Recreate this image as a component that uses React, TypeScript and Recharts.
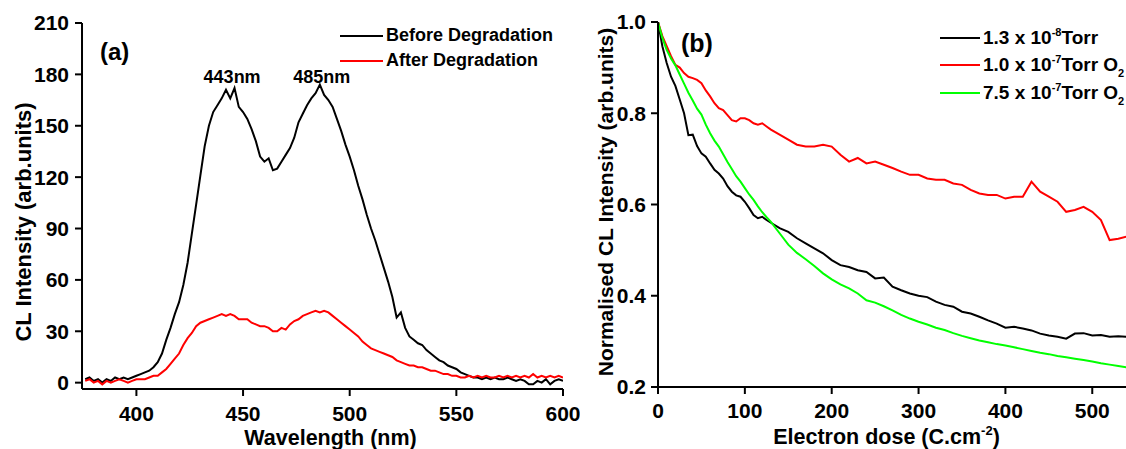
import { LineChart, Line, XAxis, YAxis, Legend, ReferenceDot } from 'recharts';

const FONT = '"Liberation Sans", Arial, sans-serif';

// ---- panel (a): CL spectra ----
const wavelengths = [
  376, 378, 380, 382, 384, 386, 388, 390, 392, 394,
  396, 398, 400, 402, 404, 406, 408, 410, 412, 414,
  416, 418, 420, 422, 424, 426, 428, 430, 432, 434,
  436, 438, 440, 442, 444, 446, 448, 450, 452, 454,
  456, 458, 460, 462, 464, 466, 468, 470, 472, 474,
  476, 478, 480, 482, 484, 486, 488, 490, 492, 494,
  496, 498, 500, 502, 504, 506, 508, 510, 512, 514,
  516, 518, 520, 522, 524, 526, 528, 530, 532, 534,
  536, 538, 540, 542, 544, 546, 548, 550, 552, 554,
  556, 558, 560, 562, 564, 566, 568, 570, 572, 574,
  576, 578, 580, 582, 584, 586, 588, 590, 592, 594,
  596, 598, 600,
];
const beforeDeg = [
  2, 3, 1, 2, 0, 2, 1, 3, 2, 3,
  2, 3, 4, 5, 6, 7, 9, 12, 17, 25,
  32, 40, 47, 57, 70, 87, 104, 121, 138, 150,
  158, 162, 166, 171, 166, 172, 161, 158, 154, 148,
  141, 132, 129, 131, 124, 125, 129, 133, 137, 143,
  152, 157, 162, 166, 169, 174, 168, 165, 161, 154,
  147, 139, 132, 124, 115, 107, 98, 90, 83, 75,
  67, 59, 50, 38, 41, 32, 27, 25, 23, 22,
  19, 17, 15, 13, 12, 10, 9, 8, 6, 5,
  4, 3, 3, 2, 3, 2, 3, 2, 2, 3,
  2, 1, 2, 1, -1, -1, 1, 0, 2, -1,
  1, 2, 1,
];
const afterDeg = [
  1, 2, 0, 1, -1, 1, 0, 1, 2, 1,
  0, 1, 2, 2, 2, 3, 4, 4, 6, 8,
  11, 14, 17, 22, 26, 29, 33, 35, 36, 37,
  38, 39, 40, 39, 40, 39, 37, 37, 37, 35,
  34, 33, 33, 32, 30, 30, 32, 31, 34, 36,
  37, 39, 40, 41, 42, 41, 42, 41, 39, 37,
  35, 33, 31, 29, 27, 24, 22, 20, 19, 18,
  17, 16, 15, 13, 12, 11, 10, 10, 9, 9,
  8, 7, 7, 6, 5, 5, 4, 4, 3, 3,
  4, 3, 4, 3, 4, 3, 3, 4, 3, 4,
  3, 4, 3, 4, 3, 5, 3, 4, 3, 4,
  3, 4, 3,
];
const peakWavelengths = [443, 485];
const peakLabels = ['443nm', '485nm'];
const specXMajor = [400, 450, 500, 550, 600];
const specXMinor = [425, 475, 525, 575];
const specYMajor = [0, 30, 60, 90, 120, 150, 180, 210];
const specYMinor = [15, 45, 75, 105, 135, 165, 195];

// ---- panel (b): degradation vs dose ----
const doses = [
  0, 5, 10, 15, 20, 25, 30, 35, 40, 45,
  50, 55, 60, 65, 70, 75, 80, 85, 90, 95,
  100, 105, 110, 115, 120, 125, 130,
  140, 150, 160, 170, 180, 190, 200, 210, 220, 230,
  240, 250, 260, 270, 280, 290, 300, 310, 320, 330,
  340, 350, 360, 370, 380, 390, 400, 410, 420, 430,
  440, 450, 460, 470, 480, 490, 500, 510, 520, 530,
  540,
];
const vacuumBase = [
  1.0, 0.947, 0.91, 0.88, 0.86, 0.83, 0.8, 0.752, 0.753, 0.728,
  0.712, 0.705, 0.69, 0.676, 0.668, 0.657, 0.64, 0.628, 0.62, 0.617,
  0.606, 0.592, 0.577, 0.57, 0.573, 0.566, 0.56,
  0.548, 0.54, 0.526, 0.515, 0.504, 0.493, 0.478, 0.467, 0.463, 0.456,
  0.452, 0.438, 0.44, 0.42, 0.412, 0.405, 0.4, 0.397, 0.387, 0.38,
  0.376, 0.365, 0.361, 0.354, 0.346, 0.339, 0.33, 0.332, 0.328, 0.324,
  0.317, 0.313, 0.31, 0.306, 0.317, 0.318, 0.313, 0.314, 0.31, 0.311,
  0.31,
];
const oxygenLow = [
  1.0, 0.969, 0.947, 0.925, 0.906, 0.9, 0.888, 0.88, 0.877, 0.873,
  0.866, 0.85, 0.837, 0.822, 0.811, 0.807, 0.796, 0.785, 0.782, 0.789,
  0.789, 0.785, 0.778, 0.775, 0.778, 0.771, 0.764,
  0.753, 0.742, 0.731, 0.727, 0.727, 0.731, 0.727, 0.709, 0.694, 0.702,
  0.69, 0.694, 0.687, 0.68, 0.672, 0.665, 0.665, 0.657, 0.654, 0.654,
  0.646, 0.643, 0.632, 0.624, 0.621, 0.621, 0.613, 0.617, 0.617, 0.65,
  0.628, 0.617, 0.606, 0.584, 0.588, 0.595, 0.584, 0.566, 0.522, 0.525,
  0.53,
];
const oxygenHigh = [
  1.0, 0.965, 0.939, 0.92, 0.905, 0.885, 0.865, 0.845, 0.828, 0.81,
  0.797, 0.775, 0.756, 0.74, 0.727, 0.71, 0.693, 0.678, 0.662, 0.65,
  0.636, 0.622, 0.61, 0.596, 0.583, 0.572, 0.562,
  0.537, 0.512, 0.494, 0.48, 0.465, 0.449, 0.436, 0.425, 0.416, 0.405,
  0.39, 0.385, 0.377, 0.368, 0.358, 0.35, 0.343, 0.337, 0.33, 0.325,
  0.318, 0.312, 0.307, 0.302, 0.298, 0.294, 0.291, 0.287, 0.283, 0.279,
  0.275, 0.272, 0.268, 0.265, 0.262, 0.259, 0.256, 0.252, 0.249, 0.246,
  0.243,
];
const pressureKeys = ['vac', 'o2low', 'o2high'];
const pressureLabels = [
  { lead: '1.3 x 10', exp: '-8', tail: 'Torr', sub: '' },
  { lead: '1.0 x 10', exp: '-7', tail: 'Torr O', sub: '2' },
  { lead: '7.5 x 10', exp: '-7', tail: 'Torr O', sub: '2' },
];
const doseXMajor = [0, 100, 200, 300, 400, 500];
const doseXMinor = [50, 150, 250, 350, 450];
const normYMajor = [0.2, 0.4, 0.6, 0.8, 1.0];
const normYMinor = [0.3, 0.5, 0.7, 0.9];

const specData = wavelengths.map((wl, i) => ({ wl, before: beforeDeg[i], after: afterDeg[i] }));
const doseData = doses.map((d, i) => ({ d, vac: vacuumBase[i], o2low: oxygenLow[i], o2high: oxygenHigh[i] }));

const axisLine = { stroke: '#000', strokeWidth: 2 };
const tickLine = { stroke: '#000', strokeWidth: 2 };
const tickStyle = { fill: '#000', fontSize: 21, fontWeight: 'bold', fontFamily: FONT };
const txt = { fontFamily: FONT, fontWeight: 'bold' as const, fill: '#000' };

const byKeys = (payload: any[], keys: string[]) =>
  [...(payload || [])].sort((a, b) => keys.indexOf(a.dataKey) - keys.indexOf(b.dataKey));

const SpecLegend = (props: any) => (
  <div style={{ fontFamily: FONT, fontWeight: 'bold', fontSize: 18, whiteSpace: 'nowrap' }}>
    {byKeys(props.payload, ['before', 'after']).map((e: any, i: number) => (
      <div key={i} style={{ display: 'flex', alignItems: 'center', height: 25 }}>
        <span style={{ display: 'inline-block', width: 43, height: 2, background: e.color, marginRight: 3 }} />
        <span>{e.value}</span>
      </div>
    ))}
  </div>
);

const DoseLegend = (props: any) => (
  <div style={{ fontFamily: FONT, fontWeight: 'bold', fontSize: 19, whiteSpace: 'nowrap' }}>
    {byKeys(props.payload, pressureKeys).map((e: any) => {
      const l = pressureLabels[pressureKeys.indexOf(e.dataKey)];
      return (
        <div key={e.dataKey} style={{ display: 'flex', alignItems: 'center', height: 27.5 }}>
          <span style={{ display: 'inline-block', width: 40, height: 2, background: e.color, marginRight: 3 }} />
          <span>
            {l.lead}
            <span style={{ fontSize: 11, position: 'relative', top: -8 }}>{l.exp}</span>
            {l.tail}
            {l.sub && <span style={{ fontSize: 11, position: 'relative', top: 6 }}>{l.sub}</span>}
          </span>
        </div>
      );
    })}
  </div>
);

export default function App() {
  return (
    <div style={{ position: 'fixed', left: 0, top: 0, width: 1126, height: 449, overflow: 'hidden', background: '#fff' }}>
      <div style={{ position: 'absolute', left: 0, top: 0 }}>
        <LineChart width={580} height={449} data={specData} margin={{ top: 23, right: 17, bottom: 0, left: 0 }}>
          {/* minor ticks first so the labelled axes stack on the plot edge */}
          <XAxis
            xAxisId="xm" type="number" domain={[374.5, 600]} allowDataOverflow
            ticks={specXMinor} interval={0} height={0.01} axisLine={false}
            tick={false} tickSize={4} tickLine={tickLine}
          />
          <YAxis
            yAxisId="ym" type="number" domain={[-3.7, 210]} allowDataOverflow
            ticks={specYMinor} interval={0} width={0.01} axisLine={false}
            tick={false} tickSize={4} tickLine={tickLine}
          />
          <XAxis
            xAxisId="x" dataKey="wl" type="number" domain={[374.5, 600]} allowDataOverflow
            ticks={specXMajor} interval={0} height={60} axisLine={axisLine}
            tickSize={7} tickMargin={10} tickLine={tickLine} tick={tickStyle}
            label={{
              content: (p: any) => (
                <text x={p.viewBox.x + p.viewBox.width / 2 + 8} y={p.viewBox.y + 56} textAnchor="middle" fontSize={21.5} {...txt}>
                  Wavelength (nm)
                </text>
              ),
            }}
          />
          <YAxis
            yAxisId="y" type="number" domain={[-3.7, 210]} allowDataOverflow
            ticks={specYMajor} interval={0} width={82} axisLine={axisLine}
            tickSize={7} tickMargin={6} tickLine={tickLine} tick={tickStyle}
            label={{
              content: () => (
                <g>
                  <text x={31} y={222} transform="rotate(-90 31 222)" textAnchor="middle" fontSize={22} {...txt}>
                    CL Intensity (arb.units)
                  </text>
                  <text x={100} y={60} fontSize={24} {...txt}>(a)</text>
                </g>
              ),
            }}
          />
          <XAxis
            xAxisId="xt" orientation="top" type="number" domain={[374.5, 600]} allowDataOverflow height={0}
            tick={false} tickLine={false} axisLine={axisLine}
          />
          <YAxis
            yAxisId="yr" orientation="right" type="number" domain={[-3.7, 210]} width={0}
            tick={false} tickLine={false} axisLine={axisLine}
          />
          <Legend
            layout="horizontal" verticalAlign="middle" align="center"
            wrapperStyle={{ top: 23, left: 340, width: 'auto' }}
            content={SpecLegend}
          />
          <Line xAxisId="x" yAxisId="y" name="Before Degradation" dataKey="before" stroke="#000000" strokeWidth={2} dot={false} type="linear" isAnimationActive={false} />
          <Line xAxisId="x" yAxisId="y" name="After Degradation" dataKey="after" stroke="#ff0000" strokeWidth={2} dot={false} type="linear" isAnimationActive={false} />
          {peakWavelengths.map((wl, i) => (
            <ReferenceDot
              key={wl} xAxisId="x" yAxisId="y" x={wl} y={175} r={0} fill="none" stroke="none"
              label={{
                content: (p: any) => (
                  <text x={p.viewBox.x + 4} y={p.viewBox.y} textAnchor="middle" fontSize={18} {...txt}>{peakLabels[i]}</text>
                ),
              }}
            />
          ))}
        </LineChart>
      </div>

      <div style={{ position: 'absolute', left: 560, top: 0 }}>
        <LineChart width={600} height={449} data={doseData} margin={{ top: 22, right: 33, bottom: 0, left: 0 }}>
          <XAxis
            xAxisId="xm" type="number" domain={[0, 540]} allowDataOverflow
            ticks={doseXMinor} interval={0} height={0.01} axisLine={false}
            tick={false} tickSize={4} tickLine={tickLine}
          />
          <YAxis
            yAxisId="ym" type="number" domain={[0.2, 1.0]} allowDataOverflow
            ticks={normYMinor} interval={0} width={0.01} axisLine={false}
            tick={false} tickSize={4} tickLine={tickLine}
          />
          <XAxis
            xAxisId="x" dataKey="d" type="number" domain={[0, 540]} allowDataOverflow
            ticks={doseXMajor} interval={0} height={62} axisLine={axisLine}
            tickSize={7} tickMargin={9} tickLine={tickLine} tick={tickStyle}
            label={{
              content: (p: any) => (
                <text x={p.viewBox.x + p.viewBox.width / 2 - 6} y={p.viewBox.y + 57} textAnchor="middle" fontSize={21.5} {...txt}>
                  <tspan>Electron dose (C.cm</tspan>
                  <tspan dy={-9} fontSize={13}>-2</tspan>
                  <tspan dy={9}>)</tspan>
                </text>
              ),
            }}
          />
          <YAxis
            yAxisId="y" type="number" domain={[0.2, 1.0]} allowDataOverflow
            ticks={normYMajor} interval={0} width={98} axisLine={axisLine}
            tickSize={7} tickMargin={5} tickLine={tickLine} tick={tickStyle}
            tickFormatter={(v: number) => v.toFixed(1)}
            label={{
              content: () => (
                <g>
                  <text x={53} y={202} transform="rotate(-90 53 202)" textAnchor="middle" fontSize={21} {...txt}>
                    Normalised CL Intensity (arb.units)
                  </text>
                  <text x={121} y={52} fontSize={25} {...txt}>(b)</text>
                </g>
              ),
            }}
          />
          <XAxis
            xAxisId="xt" orientation="top" type="number" domain={[0, 540]} allowDataOverflow height={0}
            tick={false} tickLine={false} axisLine={axisLine}
          />
          <YAxis
            yAxisId="yr" orientation="right" type="number" domain={[0.2, 1.0]} width={0}
            tick={false} tickLine={false} axisLine={axisLine}
          />
          <Legend
            layout="horizontal" verticalAlign="middle" align="center"
            wrapperStyle={{ top: 24, left: 380, width: 'auto' }}
            content={DoseLegend}
          />
          <Line xAxisId="x" yAxisId="y" name="1.3 x 10-8 Torr" dataKey="vac" stroke="#000000" strokeWidth={2} dot={false} type="linear" isAnimationActive={false} />
          <Line xAxisId="x" yAxisId="y" name="1.0 x 10-7 Torr O2" dataKey="o2low" stroke="#ff0000" strokeWidth={2} dot={false} type="linear" isAnimationActive={false} />
          <Line xAxisId="x" yAxisId="y" name="7.5 x 10-7 Torr O2" dataKey="o2high" stroke="#00ff00" strokeWidth={2} dot={false} type="linear" isAnimationActive={false} />
        </LineChart>
      </div>
    </div>
  );
}
